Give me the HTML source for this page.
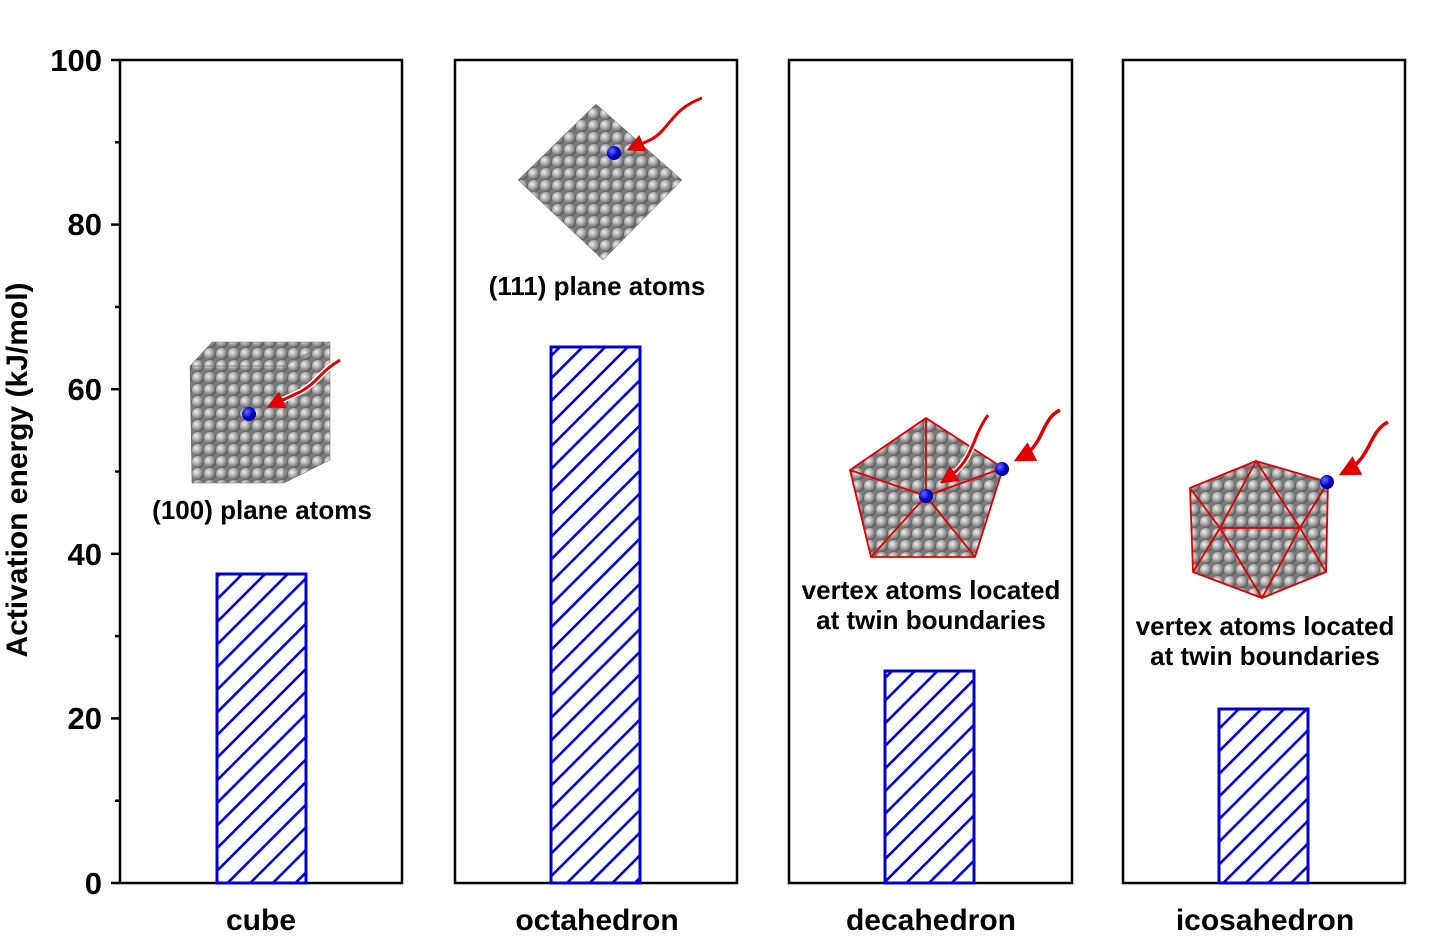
<!DOCTYPE html>
<html><head><meta charset="utf-8"><style>
body{margin:0;background:#fff}
svg{display:block}
text{font-family:"Liberation Sans",Arial,sans-serif;font-weight:bold;fill:#000}
</style></head><body>
<svg width="1440" height="951" viewBox="0 0 1440 951" xmlns="http://www.w3.org/2000/svg">
<defs>
<radialGradient id="sg" cx="0.35" cy="0.35" r="0.7">
<stop offset="0" stop-color="#f2f2f2"/><stop offset="0.5" stop-color="#a8a8a8"/><stop offset="1" stop-color="#555"/>
</radialGradient>
<pattern id="atoms" width="12" height="12" patternUnits="userSpaceOnUse">
<rect width="12" height="12" fill="#777"/>
<circle cx="6" cy="6" r="6" fill="url(#sg)"/>
</pattern>
<radialGradient id="bg" cx="0.35" cy="0.35" r="0.7">
<stop offset="0" stop-color="#6b6bff"/><stop offset="0.6" stop-color="#0000d0"/><stop offset="1" stop-color="#000070"/>
</radialGradient>
<pattern id="hatch" width="16" height="16" patternUnits="userSpaceOnUse" patternTransform="rotate(45)">
<rect width="16" height="16" fill="#fff"/>
<rect x="0" y="0" width="2.6" height="16" fill="#0000d0"/>
</pattern>
<marker id="ah" markerWidth="6" markerHeight="6" refX="4" refY="3" orient="auto" markerUnits="strokeWidth">
<path d="M0,0 L6,3 L0,6 Z" fill="#e00000"/>
</marker>
</defs>

<g fill="none" stroke="#000" stroke-width="2.5">
<rect x="120" y="60" width="282" height="823"/>
<rect x="455" y="60" width="282" height="823"/>
<rect x="789" y="60" width="283" height="823"/>
<rect x="1123" y="60" width="282" height="823"/>
</g>
<g stroke="#000" stroke-width="2.5">
<line x1="111" y1="60" x2="120" y2="60"/><line x1="111" y1="224.6" x2="120" y2="224.6"/>
<line x1="111" y1="389.2" x2="120" y2="389.2"/><line x1="111" y1="553.8" x2="120" y2="553.8"/>
<line x1="111" y1="718.4" x2="120" y2="718.4"/><line x1="111" y1="883" x2="120" y2="883"/>
<line x1="115" y1="142.3" x2="120" y2="142.3"/><line x1="115" y1="306.9" x2="120" y2="306.9"/>
<line x1="115" y1="471.5" x2="120" y2="471.5"/><line x1="115" y1="636.1" x2="120" y2="636.1"/>
<line x1="115" y1="800.7" x2="120" y2="800.7"/>
</g>
<g font-size="31" text-anchor="end">
<text x="102" y="71">100</text><text x="102" y="235">80</text><text x="102" y="400">60</text>
<text x="102" y="565">40</text><text x="102" y="729">20</text><text x="102" y="894">0</text>
</g>
<text transform="translate(27,470) rotate(-90)" font-size="30" text-anchor="middle">Activation energy (kJ/mol)</text>
<g font-size="30" text-anchor="middle">
<text x="261" y="930">cube</text><text x="597" y="930">octahedron</text>
<text x="931" y="930">decahedron</text><text x="1265" y="930">icosahedron</text>
</g>

<g fill="url(#hatch)" stroke="#0000d0" stroke-width="3">
<rect x="217" y="574" width="89" height="309"/>
<rect x="551" y="347" width="89" height="536"/>
<rect x="885" y="671" width="89" height="212"/>
<rect x="1219" y="709" width="89" height="174"/>
</g>

<g stroke="#666" stroke-width="0.5">
<polygon points="190,366 212,342 330,342 284,366" fill="url(#atoms)"/>
<polygon points="284,366 330,342 330,460 284,483" fill="url(#atoms)"/>
<polygon points="190,366 284,366 284,483 192,483" fill="url(#atoms)"/>
</g>
<circle cx="249" cy="414" r="7" fill="url(#bg)"/>
<path d="M340,360 C320,372 318,382 300,392 L272,405" fill="none" stroke="#fff" stroke-width="6"/>
<path d="M340,360 C320,372 318,382 300,392 L272,405" fill="none" stroke="#e00000" stroke-width="3" marker-end="url(#ah)"/>
<text x="262" y="519" font-size="26" text-anchor="middle">(100) plane atoms</text>

<g stroke="#666" stroke-width="0.5">
<polygon points="596,104 682,180 603,260 518,180" fill="url(#atoms)"/>
</g>
<circle cx="614" cy="153" r="7" fill="url(#bg)"/>
<path d="M702,98 C670,110 670,130 650,140 L632,148" fill="none" stroke="#e00000" stroke-width="3" marker-end="url(#ah)"/>
<text x="597" y="295" font-size="26" text-anchor="middle">(111) plane atoms</text>

<polygon points="926,418 1003,468 975,557 871,557 850,470" fill="url(#atoms)"/>
<g stroke="#e00000" stroke-width="1.8" fill="none">
<polygon points="926,418 1003,468 975,557 871,557 850,470"/>
<line x1="926" y1="496" x2="926" y2="418"/><line x1="926" y1="496" x2="1003" y2="468"/>
<line x1="926" y1="496" x2="975" y2="557"/><line x1="926" y1="496" x2="871" y2="557"/>
<line x1="926" y1="496" x2="850" y2="470"/>
</g>
<circle cx="926" cy="496" r="7" fill="url(#bg)"/>
<circle cx="1002" cy="469" r="7" fill="url(#bg)"/>
<path d="M988,415 C970,440 975,460 945,480" fill="none" stroke="#fff" stroke-width="6"/>
<path d="M988,415 C970,440 975,460 945,480" fill="none" stroke="#e00000" stroke-width="3" marker-end="url(#ah)"/>
<path d="M1060,410 C1040,420 1045,445 1020,458" fill="none" stroke="#e00000" stroke-width="3.5" marker-end="url(#ah)"/>
<g font-size="26" text-anchor="middle">
<text x="931" y="599">vertex atoms located</text><text x="931" y="629">at twin boundaries</text>
</g>

<polygon points="1256,461 1328,482 1326,572 1262,598 1193,572 1190,488" fill="url(#atoms)"/>
<g stroke="#e00000" stroke-width="1.8" fill="none">
<polygon points="1256,461 1328,482 1326,572 1262,598 1193,572 1190,488"/>
<polygon points="1256,461 1300,528 1220,528"/>
<line x1="1190" y1="488" x2="1220" y2="528"/><line x1="1328" y1="482" x2="1300" y2="528"/>
<line x1="1220" y1="528" x2="1193" y2="572"/><line x1="1300" y1="528" x2="1326" y2="572"/>
<line x1="1220" y1="528" x2="1262" y2="598"/><line x1="1300" y1="528" x2="1262" y2="598"/>
</g>
<circle cx="1327" cy="482" r="7" fill="url(#bg)"/>
<path d="M1388,422 C1368,432 1372,458 1345,472" fill="none" stroke="#e00000" stroke-width="3.5" marker-end="url(#ah)"/>
<g font-size="26" text-anchor="middle">
<text x="1265" y="635">vertex atoms located</text><text x="1265" y="665">at twin boundaries</text>
</g>
</svg>
</body></html>
